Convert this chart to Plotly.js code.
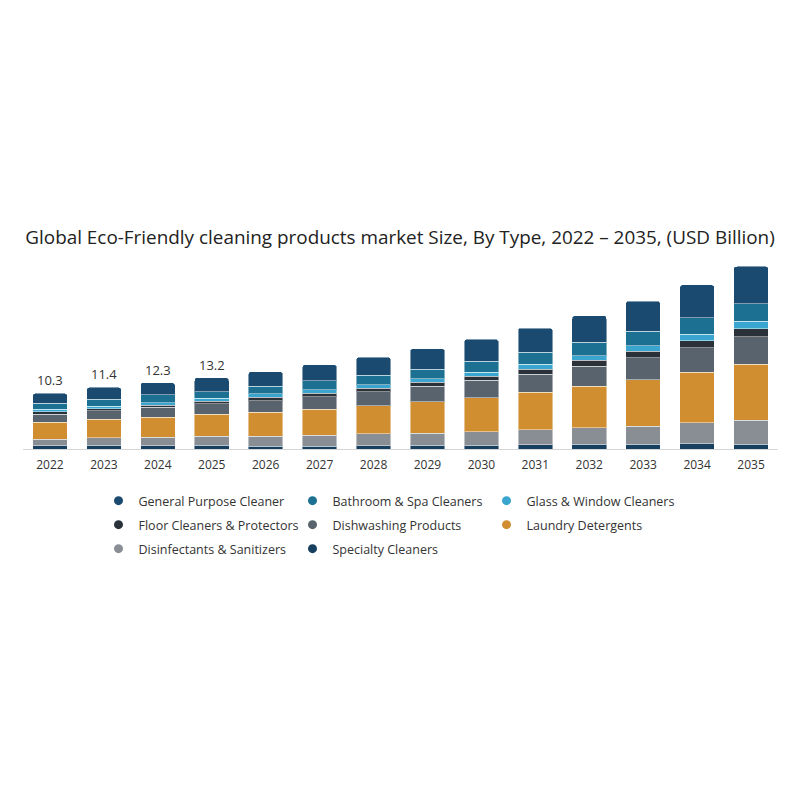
<!DOCTYPE html>
<html>
<head>
<meta charset="utf-8">
<script src="https://cdn.plot.ly/plotly-3.0.1.min.js"></script>
<style>
  html, body { margin: 0; padding: 0; background: #ffffff; }
  #chart { width: 800px; height: 800px; }
</style>
</head>
<body>
<div id="chart"></div>
<script>
// Market size by product type, USD billion
const years = ['2022','2023','2024','2025','2026','2027','2028','2029','2030','2031','2032','2033','2034','2035'];

const specialty      = [0.57, 0.70, 0.57, 0.71, 0.51, 0.51, 0.57, 0.70, 0.70, 0.82, 0.88, 0.88, 0.94, 0.87];
const disinfectants  = [1.26, 1.34, 1.58, 1.67, 1.86, 2.03, 2.21, 2.21, 2.54, 2.76, 3.02, 3.32, 3.88, 4.43];
const laundry        = [3.14, 3.44, 3.72, 4.06, 4.42, 4.82, 5.25, 5.88, 6.22, 6.96, 7.73, 8.59, 9.38, 10.41];
const dishwashing    = [1.51, 1.59, 1.83, 1.93, 2.12, 2.35, 2.53, 2.85, 3.24, 3.26, 3.65, 4.08, 4.57, 5.05];
const floor          = [0.38, 0.38, 0.44, 0.45, 0.64, 0.63, 0.70, 0.70, 0.76, 0.94, 1.13, 1.19, 1.25, 1.50];
const glassWindow    = [0.50, 0.51, 0.44, 0.58, 0.64, 0.63, 0.63, 0.63, 0.76, 0.94, 0.88, 1.07, 1.19, 1.37];
const bathroomSpa    = [1.07, 1.27, 1.45, 1.16, 1.47, 1.65, 1.77, 1.83, 2.03, 2.20, 2.45, 2.70, 3.13, 3.31];
const generalPurpose = [1.87, 2.17, 2.27, 2.64, 2.63, 2.98, 3.34, 3.80, 4.05, 4.52, 4.96, 5.57, 6.06, 6.86];

// Totals are printed above the first four bars only
const labelledYears = ['2022','2023','2024','2025'];
const labelledTotals = ['10.3','11.4','12.3','13.2'];

// Stack order, bottom to top
const series = [
  { name: 'Specialty Cleaners',           y: specialty,      color: '#173f60' },
  { name: 'Disinfectants & Sanitizers',   y: disinfectants,  color: '#898e95' },
  { name: 'Laundry Detergents',           y: laundry,        color: '#d08e30' },
  { name: 'Dishwashing Products',         y: dishwashing,    color: '#58636d' },
  { name: 'Floor Cleaners & Protectors',  y: floor,          color: '#2a3139' },
  { name: 'Glass & Window Cleaners',      y: glassWindow,    color: '#3aa6cf' },
  { name: 'Bathroom & Spa Cleaners',      y: bathroomSpa,    color: '#1c7091' },
  { name: 'General Purpose Cleaner',      y: generalPurpose, color: '#1a4a70' }
];

// Legend rows, one legend per row
const legendRows = [
  ['General Purpose Cleaner', 'Bathroom & Spa Cleaners', 'Glass & Window Cleaners'],
  ['Floor Cleaners & Protectors', 'Dishwashing Products', 'Laundry Detergents'],
  ['Disinfectants & Sanitizers', 'Specialty Cleaners']
];

const traces = series.map(s => ({
  type: 'bar',
  name: s.name,
  x: years,
  y: s.y,
  marker: { color: s.color, line: { color: 'rgba(255,255,255,0.45)', width: 1 } },
  showlegend: false,
  hoverinfo: 'x+y+name'
}));

// Round dot legend entries
const legendIds = ['legend', 'legend2', 'legend3'];
legendRows.forEach((row, r) => {
  row.forEach(name => {
    const s = series.find(d => d.name === name);
    traces.push({
      type: 'scatter',
      mode: 'markers',
      name: name,
      x: [years[0]],
      y: [null],
      marker: { color: s.color, size: 9, symbol: 'circle' },
      showlegend: true,
      legend: legendIds[r],
      hoverinfo: 'skip'
    });
  });
});

const totals = years.map((_, i) => series.reduce((acc, s) => acc + s.y[i], 0));

// On a category axis annotations are placed by category index
const annotations = labelledYears.map((yr, k) => ({
  x: years.indexOf(yr),
  y: totals[years.indexOf(yr)],
  xref: 'x',
  yref: 'y',
  text: labelledTotals[k],
  showarrow: false,
  yanchor: 'bottom',
  yshift: 2,
  font: { family: 'Open Sans, sans-serif', size: 13, color: '#333333' }
}));

const legendFont = { family: 'Open Sans, sans-serif', size: 12.5, color: '#333333' };
function legendRow(centerY) {
  return {
    orientation: 'h',
    traceorder: 'normal',
    x: 0.1,
    xanchor: 'left',
    y: 1 - centerY / 800,
    yanchor: 'middle',
    yref: 'container',
    entrywidth: 149,
    entrywidthmode: 'pixels',
    itemwidth: 30,
    font: legendFont,
    bgcolor: 'rgba(0,0,0,0)'
  };
}

const layout = {
  width: 800,
  height: 800,
  paper_bgcolor: '#ffffff',
  plot_bgcolor: '#ffffff',
  margin: { l: 23, r: 22, t: 260, b: 351 },
  barmode: 'stack',
  bargap: 0.36,
  barcornerradius: 3,
  title: {
    text: 'Global Eco-Friendly cleaning products market Size, By Type, 2022 – 2035, (USD Billion)',
    font: { family: 'Open Sans, sans-serif', size: 18.9, color: '#222222' },
    x: 0.5,
    xanchor: 'center',
    y: 1 - 237 / 800,
    yanchor: 'middle',
    yref: 'container'
  },
  xaxis: {
    type: 'category',
    categoryorder: 'array',
    categoryarray: years,
    range: [-0.5, years.length - 0.5],
    autorange: false,
    showgrid: false,
    zeroline: false,
    showline: true,
    linecolor: '#d6d6d6',
    linewidth: 1,
    ticks: '',
    ticklabelstandoff: 5,
    tickfont: { family: 'Open Sans, sans-serif', size: 12, color: '#333333' },
    fixedrange: true
  },
  yaxis: {
    range: [0, 35],
    autorange: false,
    visible: false,
    showgrid: false,
    zeroline: false,
    fixedrange: true
  },
  legend: legendRow(501),
  legend2: legendRow(525),
  legend3: legendRow(549),
  annotations: annotations,
  showlegend: true
};

Plotly.newPlot('chart', traces, layout, { displayModeBar: false, staticPlot: true });
</script>
</body>
</html>
